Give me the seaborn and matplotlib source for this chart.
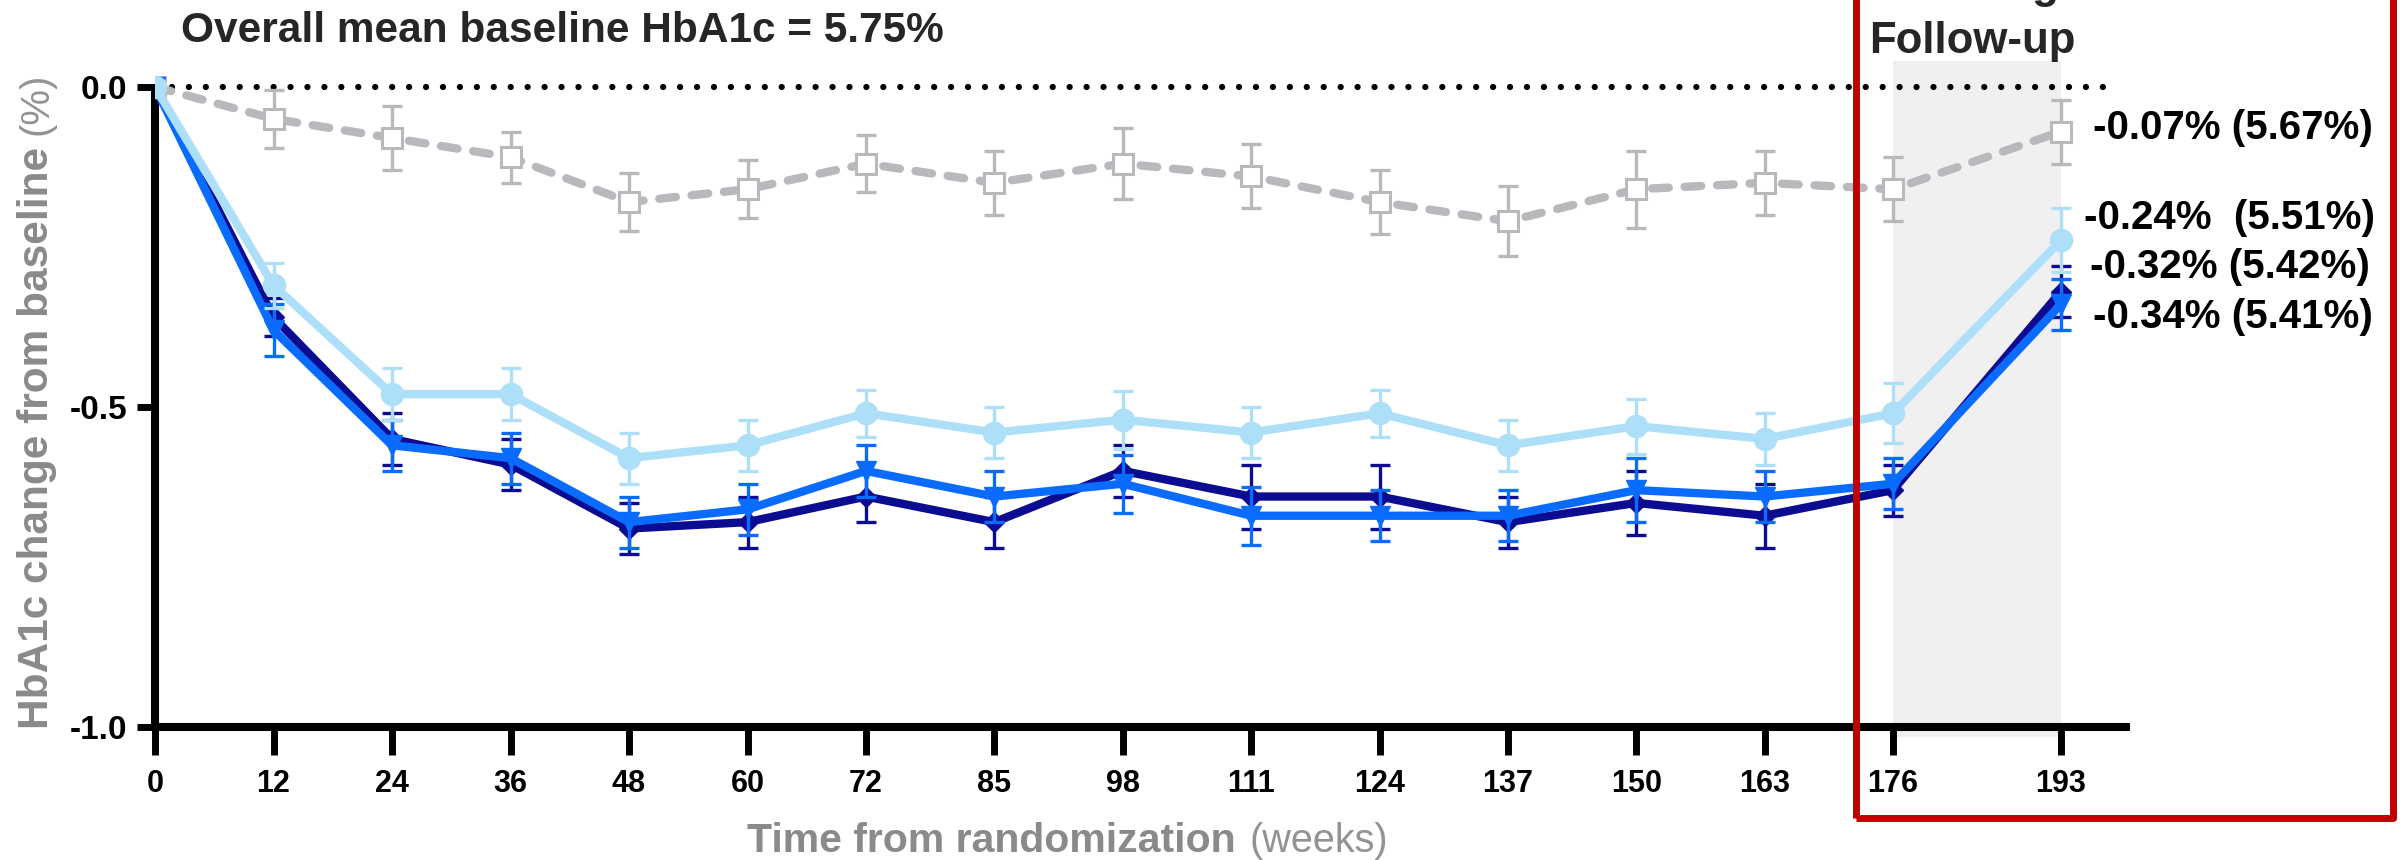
import matplotlib
matplotlib.use("Agg")
import matplotlib.pyplot as plt
import seaborn as sns
from matplotlib.patches import Rectangle

# Visit schedule (weeks from randomization)
weeks = [0, 12, 24, 36, 48, 60, 72, 85, 98, 111, 124, 137, 150, 163, 176, 193]

# Mean change from baseline in HbA1c (%) and standard errors per arm
placebo = [0.00, -0.05, -0.08, -0.11, -0.18, -0.16, -0.12, -0.15, -0.12, -0.14, -0.18, -0.21, -0.16, -0.15, -0.16, -0.07]
placebo_se = [0.00, 0.045, 0.05, 0.04, 0.045, 0.045, 0.045, 0.05, 0.055, 0.05, 0.05, 0.055, 0.06, 0.05, 0.05, 0.05]

arm_low = [0.00, -0.31, -0.48, -0.48, -0.58, -0.56, -0.51, -0.54, -0.52, -0.54, -0.51, -0.56, -0.53, -0.55, -0.51, -0.24]
arm_low_se = [0.00, 0.035, 0.04, 0.04, 0.04, 0.04, 0.037, 0.04, 0.045, 0.04, 0.037, 0.04, 0.043, 0.04, 0.047, 0.05]

arm_mid = [0.00, -0.38, -0.56, -0.58, -0.68, -0.66, -0.60, -0.64, -0.62, -0.67, -0.67, -0.67, -0.63, -0.64, -0.62, -0.34]
arm_mid_se = [0.00, 0.04, 0.04, 0.04, 0.04, 0.04, 0.04, 0.04, 0.045, 0.045, 0.04, 0.04, 0.05, 0.04, 0.04, 0.04]

arm_high = [0.00, -0.36, -0.55, -0.59, -0.69, -0.68, -0.64, -0.68, -0.60, -0.64, -0.64, -0.68, -0.65, -0.67, -0.63, -0.32]
arm_high_se = [0.00, 0.03, 0.04, 0.04, 0.04, 0.04, 0.04, 0.04, 0.04, 0.05, 0.05, 0.04, 0.05, 0.05, 0.04, 0.04]

# Final-visit annotations: change (absolute HbA1c)
end_labels = ["-0.07% (5.67%)", "-0.24%  (5.51%)", "-0.32% (5.42%)", "-0.34% (5.41%)"]

title_text = "Overall mean baseline HbA1c = 5.75%"
window_text = "Off-drug\nFollow-up"
ylabel_main, ylabel_unit = "HbA1c change from baseline", "(%)"
xlabel_main, xlabel_unit = "Time from randomization", "(weeks)"
y_ticks = [-1.0, -0.5, 0.0]

sns.set_theme(style="white")
plt.rcParams["font.family"] = ["Liberation Sans", "DejaVu Sans"]

W, H = 2405, 860
fig = plt.figure(figsize=(W / 100, H / 100), dpi=100)
ax = fig.add_axes([155 / W, 133 / H, 1975 / W, 669 / H])

GRAY = "#b8b8bd"
LIGHT = "#ade0f8"
MID = "#0a6cff"
DARK = "#0c0c92"

# Follow-up window shading
band = ax.fill_between([176, 193], -1.015, 0.04, color="#f0f0f0", lw=0, zorder=0)
band.set_clip_on(False)

# Zero reference line
ax.plot([0, 198.7], [0, 0], color="black", lw=4.5, linestyle=(0, (0.01, 2.7)),
        dash_capstyle="round", zorder=1)

series = [
    (placebo, placebo_se, GRAY, "s", 15, dict(markerfacecolor="white", markeredgecolor=GRAY,
                                              markeredgewidth=2.2, linestyle=(0, (2.0, 1.9)),
                                              dash_capstyle="round"), 3),
    (arm_high, arm_high_se, DARK, "D", 10.5, dict(markerfacecolor=DARK, markeredgecolor=DARK,
                                                   markeredgewidth=1), 4),
    (arm_mid, arm_mid_se, MID, "v", 15, dict(markerfacecolor=MID, markeredgecolor=MID,
                                              markeredgewidth=1), 5),
    (arm_low, arm_low_se, LIGHT, "o", 16, dict(markerfacecolor=LIGHT, markeredgecolor=LIGHT,
                                                markeredgewidth=1), 6),
]

for vals, se, color, marker, ms, extra, z in series:
    ax.errorbar(weeks, vals, yerr=se, fmt="none", ecolor=color, elinewidth=2.4,
                capsize=7, capthick=2.4, zorder=z)
    sns.lineplot(x=weeks, y=vals, ax=ax, color=color, marker=marker, markersize=ms,
                 linewidth=6, estimator=None, errorbar=None, zorder=z + 0.5, **extra)

# End-of-study annotations
label_y = [-0.064, -0.205, -0.281, -0.36]
label_x = [196.3, 195.3, 195.9, 196.3]
for txt, lx, ly in zip(end_labels, label_x, label_y):
    ax.text(lx, ly, txt, fontsize=29, fontweight="bold", color="black",
            ha="left", va="center", clip_on=False)

# Axes styling
ax.set_xlim(0, 200)
ax.set_ylim(-1.0, 0.045)
ax.set_xlabel("")
ax.set_ylabel("")
for side in ("top", "right"):
    ax.spines[side].set_visible(False)
for side in ("left", "bottom"):
    ax.spines[side].set_color("black")
    ax.spines[side].set_linewidth(5.8)
    ax.spines[side].set_capstyle("butt")
ax.spines["left"].set_bounds(-1.0, 0.0)
ax.set_xticks(weeks)
ax.set_xticklabels([str(w) for w in weeks])
ax.set_yticks(y_ticks)
ax.set_yticklabels([f"{v:.1f}" for v in y_ticks])
ax.tick_params(axis="x", length=20, width=5, color="black", pad=10,
               labelsize=22, bottom=True)
ax.tick_params(axis="y", length=13, width=5, color="black", pad=7,
               labelsize=24, left=True)
for lab in ax.get_xticklabels() + ax.get_yticklabels():
    lab.set_fontweight("bold")
    lab.set_color("black")
ax.grid(False)
ax.patch.set_alpha(0)

# Title and window heading
fig.text(181 / W, 1 - 42 / H, title_text, fontsize=30.5, fontweight="bold",
         ha="left", va="baseline")
fig.text(1972 / W, 1 - 53 / H, window_text, fontsize=31.5, fontweight="bold",
         ha="center", va="baseline", multialignment="center", linespacing=1.45)

# Axis titles: bold main part followed by a lighter unit
LABEL_GRAY = "#8a8a8a"
xl = fig.text(747 / W, 1 - 852 / H, xlabel_main, fontsize=29.5, fontweight="bold",
              color=LABEL_GRAY, ha="left", va="baseline")
yl = fig.text(37 / W, 1 - 729 / H, ylabel_main, fontsize=30.5, fontweight="bold",
              color=LABEL_GRAY, rotation=90, ha="center", va="bottom")
fig.canvas.draw()
r = fig.canvas.get_renderer()
xb = xl.get_window_extent(r)
yb = yl.get_window_extent(r)
fig.text((xb.x1 + 14) / W, 1 - 852 / H, xlabel_unit, fontsize=28.5, color="#939393",
         ha="left", va="baseline")
fig.text(37 / W, (yb.y1 + 12) / H, ylabel_unit, fontsize=29, color="#939393",
         rotation=90, ha="center", va="bottom")

# Outline around the follow-up window
fig.add_artist(Rectangle((1856 / W, 42 / H), 537 / W, 1.2, transform=fig.transFigure,
                         fill=False, edgecolor="#c00000", lw=5, joinstyle="round"))

fig.savefig("out.png", dpi=100)
